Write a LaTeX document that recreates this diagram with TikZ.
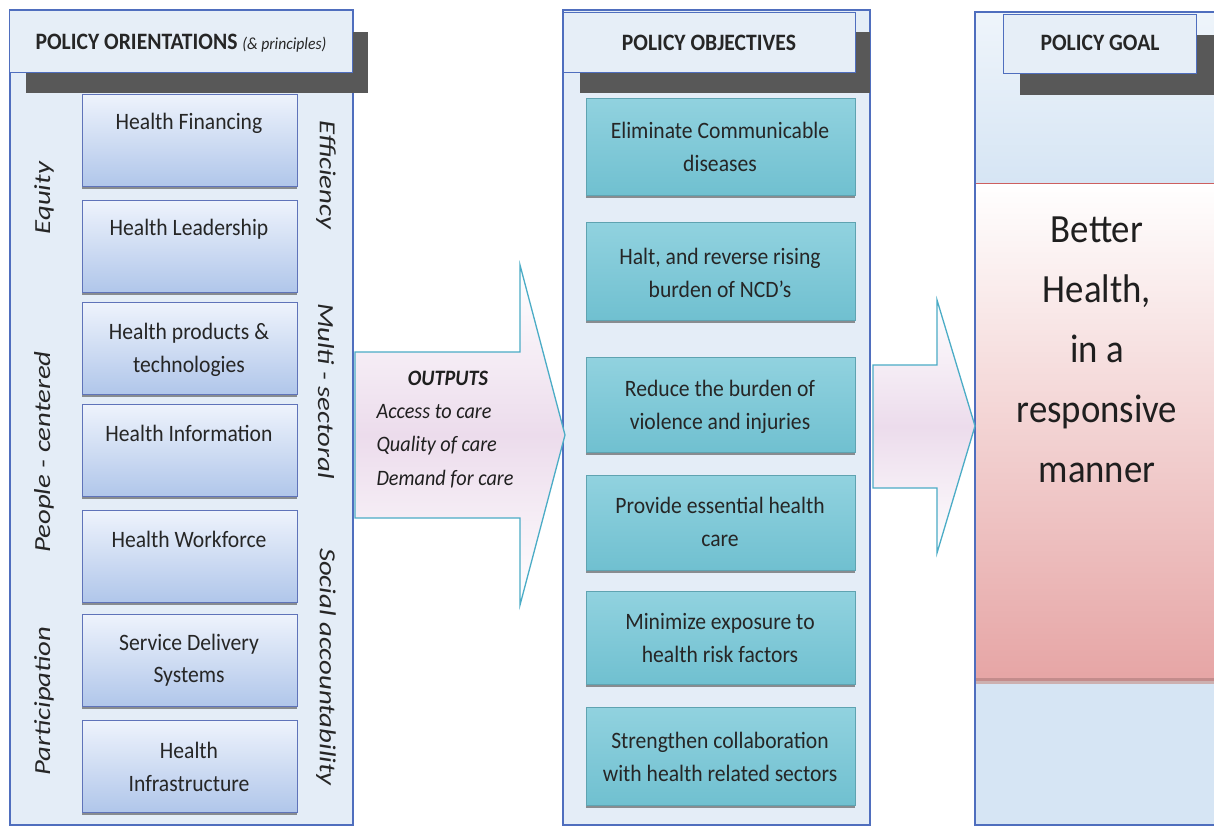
\documentclass[tikz,border=0pt]{standalone}
\usepackage{fontspec}
\setmainfont{Carlito}[FakeStretch=0.92]
\newfontfamily\sidefont{Carlito}[FakeStretch=1.25]
\usetikzlibrary{shadows}
\definecolor{panelline}{RGB}{79,110,190}
\definecolor{panelbg}{RGB}{228,237,247}
\definecolor{hdrbg}{RGB}{230,238,247}
\definecolor{hshadow}{RGB}{88,88,88}
\definecolor{boxtop}{RGB}{238,243,252}
\definecolor{boxbot}{RGB}{176,198,234}
\definecolor{boxline}{RGB}{95,115,185}
\definecolor{tealtop}{RGB}{145,210,223}
\definecolor{tealbot}{RGB}{112,192,208}
\definecolor{arrowline}{RGB}{75,172,198}
\definecolor{arrowfill}{RGB}{236,220,236}
\definecolor{goalpink}{RGB}{230,165,165}
\definecolor{goalline}{RGB}{205,95,95}
\definecolor{goalblue}{RGB}{214,229,244}
\begin{document}
\begin{tikzpicture}[x=1pt,y=-1pt,
  panel/.style={draw=panelline, line width=1.1pt, fill=panelbg},
  hdr/.style={draw=panelline, line width=1pt, fill=hdrbg, anchor=north west, inner sep=0pt},
  hdrtext/.style={font=\bfseries\fontsize{23.5}{26}\selectfont, text=black!85},
  hbox/.style={draw=boxline, line width=0.8pt, top color=boxtop, bottom color=boxbot,
    minimum width=215pt, minimum height=92pt, anchor=north west, inner sep=0pt,
    drop shadow={shadow xshift=0pt, shadow yshift=-3pt, fill=black!70, opacity=0.6}},
  tbox/.style={draw=tealbot!85!black, line width=0.4pt, top color=tealtop, bottom color=tealbot,
    minimum width=269pt, minimum height=96pt, anchor=north west, inner sep=0pt,
    drop shadow={shadow xshift=0pt, shadow yshift=-3pt, fill=black!70, opacity=0.6}},
  btxt/.style={font=\fontsize{23.5}{32.5}\selectfont, align=center, text=black!85},
  side/.style={font=\sidefont\itshape\fontsize{23}{26}\selectfont, text=black!85},
  otxt/.style={font=\itshape\fontsize{22}{26}\selectfont, text=black!88, anchor=west},
  bigarrow/.style={draw=arrowline, line width=1.3pt, top color=white, bottom color=white, middle color=arrowfill, line join=miter}
]
\useasboundingbox (0,0) rectangle (1214,828);
\fill[white] (0,0) rectangle (1214,828);

% ---------------- Left panel ----------------
\draw[panel] (10,10) rectangle (353,825);
\fill[hshadow] (26,32) rectangle (368,93);
\node[hdr, minimum width=343pt, minimum height=62pt] (ohdr) at (9,10) {};
\node[hdrtext] (ohdrt) at (181,43) {POLICY ORIENTATIONS \textit{\mdseries\fontsize{17}{20}\selectfont(\& principles)}};

\node[hbox] (b1) at (82,94) {};
\node[hbox] (b2) at (82,200) {};
\node[hbox] (b3) at (82,302) {};
\node[hbox] (b4) at (82,404) {};
\node[hbox] (b5) at (82,510) {};
\node[hbox] (b6) at (82,614) {};
\node[hbox] (b7) at (82,720) {};

\node[btxt] (t1) at (189,123) {Health Financing};
\node[btxt] (t2) at (189,229) {Health Leadership};
\node[btxt] (t3) at (189,350) {Health products \&\\technologies};
\node[btxt] (t4) at (189,433) {Health Information};
\node[btxt] (t5) at (189,539) {Health Workforce};
\node[btxt] (t6) at (189,660) {Service Delivery\\Systems};
\node[btxt] (t7) at (189,767) {Health\\Infrastructure};

\node[side, rotate=90] (equity) at (44,198) {Equity};
\node[side, rotate=90] (people) at (44,452) {People - centered};
\node[side, rotate=90] (partic) at (44,701) {Participation};
\node[side, rotate=-90] (effic) at (326,175) {Efficiency};
\node[side, rotate=-90] (multi) at (326,391) {Multi - sectoral};
\node[side, rotate=-90] (social) at (326,667) {Social accountability};

% ---------------- Middle panel ----------------
\draw[panel] (563,10) rectangle (870,825);
\fill[hshadow] (580,32) rectangle (870,93);
\node[hdr, minimum width=292pt, minimum height=60pt] (mhdr) at (563,12) {};
\node[hdrtext] (mhdrt) at (709,43) {POLICY OBJECTIVES};

\node[tbox, minimum height=97pt] (o1) at (586,98) {};
\node[tbox, minimum height=98pt] (o2) at (586,222) {};
\node[tbox, minimum height=95pt] (o3) at (586,357) {};
\node[tbox, minimum height=95pt] (o4) at (586,475) {};
\node[tbox, minimum height=93pt] (o5) at (586,591) {};
\node[tbox, minimum height=98pt] (o6) at (586,707) {};

\node[btxt] (ot1) at (720,147) {Eliminate Communicable\\diseases};
\node[btxt] (ot2) at (720,273) {Halt, and reverse rising\\burden of NCD's};
\node[btxt] (ot3) at (720,407) {Reduce the burden of\\violence and injuries};
\node[btxt] (ot4) at (720,522) {Provide essential health\\care};
\node[btxt] (ot5) at (720,638) {Minimize exposure to\\health risk factors};
\node[btxt] (ot6) at (720,757) {Strengthen collaboration\\with health related sectors};

% ---------------- Right panel ----------------
\shade[top color=white!60!goalblue, bottom color=goalblue] (975,12) rectangle (1214,183);
\shade[top color=white, bottom color=goalpink] (975,183) rectangle (1214,680);
\fill[goalpink!75!black, opacity=0.6] (975,678) rectangle (1214,684);
\fill[goalblue] (975,684) rectangle (1214,825);
\draw[goalline, line width=1pt] (975,183) -- (1214,183);
\draw[panelline, line width=1.1pt] (1214,12) -- (975,12) -- (975,825) -- (1214,825);
\fill[hshadow] (1020,35) rectangle (1214,95);
\node[hdr, minimum width=193pt, minimum height=59pt] (ghdr) at (1003,14) {};
\node[hdrtext] (ghdrt) at (1100,43) {POLICY GOAL};
\node[font=\fontsize{40}{60}\selectfont, align=center, text=black!88] (goal) at (1097,350)
  {Better\\Health,\\in a\\responsive\\manner};

% ---------------- Arrows ----------------
\path[bigarrow] (355,352) -- (520,352) -- (520,265) -- (565,435) -- (520,605) -- (520,518) -- (355,518) -- cycle;
\node[font=\bfseries\itshape\fontsize{22}{26}\selectfont, text=black!88] (outputs) at (448,378) {OUTPUTS};
\node[otxt] (acc) at (373,412) {Access to care};
\node[otxt] (qual) at (373,446) {Quality of care};
\node[otxt] (dem) at (373,479) {Demand for care};

\path[bigarrow] (873,365) -- (937,365) -- (937,300) -- (975,426) -- (937,553) -- (937,488) -- (873,488) -- cycle;
\end{tikzpicture}
\end{document}
